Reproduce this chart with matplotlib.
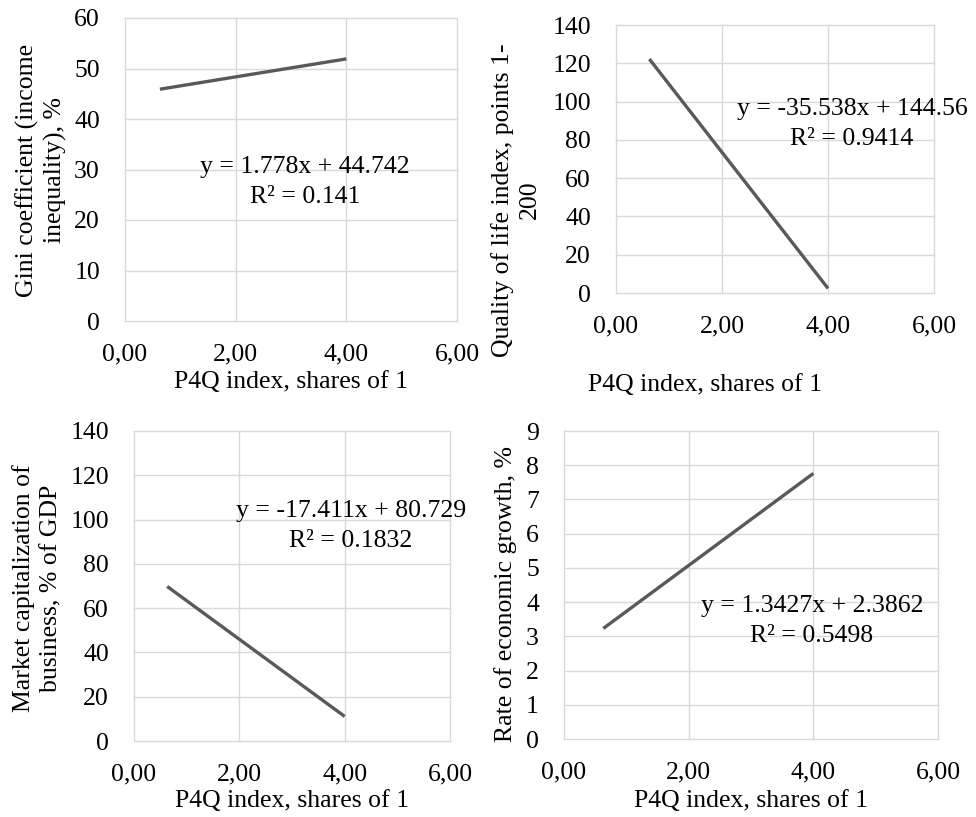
import matplotlib
matplotlib.use("Agg")
import matplotlib.pyplot as plt

plt.rcParams['font.family'] = ['Liberation Serif', 'DejaVu Serif']

# ---- data ----
x_ends = [0.63, 4.0]
gini_y = [45.9, 51.9]
qol_y = [122.2, 2.4]
mcap_y = [69.8, 11.1]
growth_y = [3.23, 7.76]

x_ticks = [0, 2, 4, 6]
x_tick_labels = ["0,00", "2,00", "4,00", "6,00"]
xlabel = "P4Q index, shares of 1"

ylabels = ["Gini coefficient (income\ninequality), %",
           "Quality of life index, points 1-\n200",
           "Market capitalization of\nbusiness, % of GDP",
           "Rate of economic growth, %"]
equations = ["y = 1.778x + 44.742\nR² = 0.141",
             "y = -35.538x + 144.56\nR² = 0.9414",
             "y = -17.411x + 80.729\nR² = 0.1832",
             "y = 1.3427x + 2.3862\nR² = 0.5498"]
y_ticks = [list(range(0, 61, 10)), list(range(0, 141, 20)),
           list(range(0, 141, 20)), list(range(0, 10, 1))]
series = [gini_y, qol_y, mcap_y, growth_y]

W, H = 976, 817
fig = plt.figure(figsize=(W / 100, H / 100), dpi=100)

def fx(x):
    return x / W

def fy(y):
    return 1 - y / H

# axes boxes in pixels: left, right, top, bottom
boxes = [(125, 457, 18, 321), (616, 934, 25, 293),
         (134, 450, 431, 741), (564, 938, 431, 739)]
xlabel_pos = [(291, 382), (705, 385), (292, 801), (751, 801)]
ylabel_pos = [(41, 170), (516, 200), (37, 588), (506, 594)]
eq_pos = [(305, 182), (852, 124), (351, 526), (812, 621)]

FS = 18.5
GRID = '#d9d9d9'
LINE = '#595959'

for i in range(4):
    l, r, t, b = boxes[i]
    ax = fig.add_axes([fx(l), fy(b), (r - l) / W, (b - t) / H])
    ax.plot(x_ends, series[i], color=LINE, lw=2.4, solid_capstyle='butt')
    ax.set_xlim(0, 6)
    ax.set_ylim(y_ticks[i][0], y_ticks[i][-1])
    ax.set_xticks(x_ticks)
    ax.set_xticklabels(x_tick_labels)
    ax.set_yticks(y_ticks[i])
    ax.set_yticklabels([str(v) for v in y_ticks[i]])
    ax.grid(True, color=GRID, lw=1.0)
    ax.set_axisbelow(True)
    for s in ax.spines.values():
        s.set_visible(False)
    ax.tick_params(length=0, labelsize=FS, colors='black')
    ax.tick_params(axis='x', pad=16)
    ax.tick_params(axis='y', pad=18)
    for ln in ax.get_xgridlines() + ax.get_ygridlines():
        ln.set_clip_on(False)
    fig.text(fx(xlabel_pos[i][0]), fy(xlabel_pos[i][1]), xlabel,
             ha='center', va='center', fontsize=FS)
    fig.text(fx(ylabel_pos[i][0]), fy(ylabel_pos[i][1]), ylabels[i],
             ha='center', va='center', rotation=90, fontsize=FS,
             multialignment='center', linespacing=1.3)
    fig.text(fx(eq_pos[i][0]), fy(eq_pos[i][1]), equations[i],
             ha='center', va='center', fontsize=FS,
             multialignment='center', linespacing=1.45)

fig.savefig("out.png", dpi=100, facecolor='white')
